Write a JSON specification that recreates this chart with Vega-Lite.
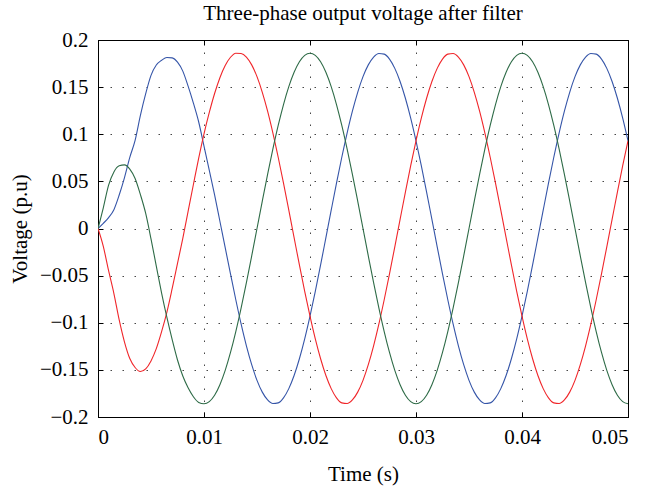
{
"$schema": "https://vega.github.io/schema/vega-lite/v6.json",
"width": 530, "height": 377,
"autosize": "none",
"padding": {"left": 98, "top": 40, "right": 18, "bottom": 72},
"background": "white",
"title": {"text": "Three-phase output voltage after filter", "font": "Liberation Serif", "fontSize": 21, "fontWeight": "normal", "color": "black", "anchor": "middle", "offset": 5},
"config": {
 "font": "Liberation Serif",
 "view": {"stroke": "black", "strokeWidth": 1},
 "axis": {"domainColor": "black", "tickColor": "black", "labelColor": "black", "titleColor": "black", "labelFont": "Liberation Serif", "titleFont": "Liberation Serif", "labelFontSize": 21, "titleFontSize": 21, "titleFontWeight": "normal", "tickSize": -5, "gridColor": "#333333", "gridDash": [1.5, 10.5], "gridWidth": 1, "gridOpacity": 0.9}
},
"data": {"values": [
{"t":0,"p":"Va","v":0},{"t":0.0005,"p":"Va","v":0.0055},{"t":0.001,"p":"Va","v":0.0115},{"t":0.0015,"p":"Va","v":0.020},{"t":0.002,"p":"Va","v":0.0355},{"t":0.0025,"p":"Va","v":0.054},{"t":0.003,"p":"Va","v":0.0755},{"t":0.0035,"p":"Va","v":0.0935},{"t":0.004,"p":"Va","v":0.120},{"t":0.0045,"p":"Va","v":0.143},
{"t":0.005,"p":"Va","v":0.1625},{"t":0.0055,"p":"Va","v":0.1735},{"t":0.006,"p":"Va","v":0.1785},{"t":0.0065,"p":"Va","v":0.1815},{"t":0.007,"p":"Va","v":0.181},{"t":0.0075,"p":"Va","v":0.1765},{"t":0.008,"p":"Va","v":0.167},{"t":0.0085,"p":"Va","v":0.151},{"t":0.009,"p":"Va","v":0.133},{"t":0.0095,"p":"Va","v":0.113},
{"t":0.01,"p":"Va","v":0.0875},{"t":0.0105,"p":"Va","v":0.0617},{"t":0.011,"p":"Va","v":0.0357},{"t":0.0115,"p":"Va","v":0.0077},{"t":0.012,"p":"Va","v":-0.0204},{"t":0.0125,"p":"Va","v":-0.0481},{"t":0.013,"p":"Va","v":-0.0756},{"t":0.0135,"p":"Va","v":-0.1013},{"t":0.014,"p":"Va","v":-0.1245},{"t":0.0145,"p":"Va","v":-0.1445},
{"t":0.015,"p":"Va","v":-0.1611},{"t":0.0155,"p":"Va","v":-0.1736},{"t":0.016,"p":"Va","v":-0.1819},{"t":0.0165,"p":"Va","v":-0.1857},{"t":0.017,"p":"Va","v":-0.1850},{"t":0.0175,"p":"Va","v":-0.1797},{"t":0.018,"p":"Va","v":-0.1699},{"t":0.0185,"p":"Va","v":-0.1560},{"t":0.019,"p":"Va","v":-0.1382},{"t":0.0195,"p":"Va","v":-0.1171},
{"t":0.02,"p":"Va","v":-0.0930},{"t":0.0205,"p":"Va","v":-0.0667},{"t":0.021,"p":"Va","v":-0.0387},{"t":0.0215,"p":"Va","v":-0.0097},{"t":0.022,"p":"Va","v":0.0194},{"t":0.0225,"p":"Va","v":0.0481},{"t":0.023,"p":"Va","v":0.0756},{"t":0.0235,"p":"Va","v":0.1013},{"t":0.024,"p":"Va","v":0.1245},{"t":0.0245,"p":"Va","v":0.1445},
{"t":0.025,"p":"Va","v":0.1611},{"t":0.0255,"p":"Va","v":0.1736},{"t":0.026,"p":"Va","v":0.1819},{"t":0.0265,"p":"Va","v":0.1857},{"t":0.027,"p":"Va","v":0.1850},{"t":0.0275,"p":"Va","v":0.1797},{"t":0.028,"p":"Va","v":0.1699},{"t":0.0285,"p":"Va","v":0.1560},{"t":0.029,"p":"Va","v":0.1382},{"t":0.0295,"p":"Va","v":0.1171},
{"t":0.03,"p":"Va","v":0.0930},{"t":0.0305,"p":"Va","v":0.0667},{"t":0.031,"p":"Va","v":0.0387},{"t":0.0315,"p":"Va","v":0.0097},{"t":0.032,"p":"Va","v":-0.0194},{"t":0.0325,"p":"Va","v":-0.0481},{"t":0.033,"p":"Va","v":-0.0756},{"t":0.0335,"p":"Va","v":-0.1013},{"t":0.034,"p":"Va","v":-0.1245},{"t":0.0345,"p":"Va","v":-0.1445},
{"t":0.035,"p":"Va","v":-0.1611},{"t":0.0355,"p":"Va","v":-0.1736},{"t":0.036,"p":"Va","v":-0.1819},{"t":0.0365,"p":"Va","v":-0.1857},{"t":0.037,"p":"Va","v":-0.1850},{"t":0.0375,"p":"Va","v":-0.1797},{"t":0.038,"p":"Va","v":-0.1699},{"t":0.0385,"p":"Va","v":-0.1560},{"t":0.039,"p":"Va","v":-0.1382},{"t":0.0395,"p":"Va","v":-0.1171},
{"t":0.04,"p":"Va","v":-0.0930},{"t":0.0405,"p":"Va","v":-0.0667},{"t":0.041,"p":"Va","v":-0.0387},{"t":0.0415,"p":"Va","v":-0.0097},{"t":0.042,"p":"Va","v":0.0194},{"t":0.0425,"p":"Va","v":0.0481},{"t":0.043,"p":"Va","v":0.0756},{"t":0.0435,"p":"Va","v":0.1013},{"t":0.044,"p":"Va","v":0.1245},{"t":0.0445,"p":"Va","v":0.1445},
{"t":0.045,"p":"Va","v":0.1611},{"t":0.0455,"p":"Va","v":0.1736},{"t":0.046,"p":"Va","v":0.1819},{"t":0.0465,"p":"Va","v":0.1857},{"t":0.047,"p":"Va","v":0.1850},{"t":0.0475,"p":"Va","v":0.1797},{"t":0.048,"p":"Va","v":0.1699},{"t":0.0485,"p":"Va","v":0.1560},{"t":0.049,"p":"Va","v":0.1382},{"t":0.0495,"p":"Va","v":0.1171},{"t":0.05,"p":"Va","v":0.0930},

{"t":0,"p":"Vb","v":0},{"t":0.0005,"p":"Vb","v":-0.019},{"t":0.001,"p":"Vb","v":-0.0448},{"t":0.0015,"p":"Vb","v":-0.069},{"t":0.002,"p":"Vb","v":-0.097},{"t":0.0025,"p":"Vb","v":-0.1205},{"t":0.003,"p":"Vb","v":-0.138},{"t":0.0035,"p":"Vb","v":-0.1475},{"t":0.004,"p":"Vb","v":-0.1518},{"t":0.0045,"p":"Vb","v":-0.149},
{"t":0.005,"p":"Vb","v":-0.1405},{"t":0.0055,"p":"Vb","v":-0.1275},{"t":0.006,"p":"Vb","v":-0.1095},{"t":0.0065,"p":"Vb","v":-0.0887},{"t":0.007,"p":"Vb","v":-0.0636},{"t":0.0075,"p":"Vb","v":-0.037},{"t":0.008,"p":"Vb","v":-0.0104},{"t":0.0085,"p":"Vb","v":0.0182},{"t":0.009,"p":"Vb","v":0.0467},{"t":0.0095,"p":"Vb","v":0.0747},
{"t":0.01,"p":"Vb","v":0.1005},{"t":0.0105,"p":"Vb","v":0.1231},{"t":0.011,"p":"Vb","v":0.1432},{"t":0.0115,"p":"Vb","v":0.160},{"t":0.012,"p":"Vb","v":0.1729},{"t":0.0125,"p":"Vb","v":0.1817},{"t":0.013,"p":"Vb","v":0.186},{"t":0.0135,"p":"Vb","v":0.1857},{"t":0.014,"p":"Vb","v":0.1819},{"t":0.0145,"p":"Vb","v":0.1736},
{"t":0.015,"p":"Vb","v":0.1611},{"t":0.0155,"p":"Vb","v":0.1445},{"t":0.016,"p":"Vb","v":0.1245},{"t":0.0165,"p":"Vb","v":0.1013},{"t":0.017,"p":"Vb","v":0.0756},{"t":0.0175,"p":"Vb","v":0.0481},{"t":0.018,"p":"Vb","v":0.0194},{"t":0.0185,"p":"Vb","v":-0.0097},{"t":0.019,"p":"Vb","v":-0.0387},{"t":0.0195,"p":"Vb","v":-0.0667},
{"t":0.02,"p":"Vb","v":-0.0930},{"t":0.0205,"p":"Vb","v":-0.1171},{"t":0.021,"p":"Vb","v":-0.1382},{"t":0.0215,"p":"Vb","v":-0.1560},{"t":0.022,"p":"Vb","v":-0.1699},{"t":0.0225,"p":"Vb","v":-0.1797},{"t":0.023,"p":"Vb","v":-0.1850},{"t":0.0235,"p":"Vb","v":-0.1857},{"t":0.024,"p":"Vb","v":-0.1819},{"t":0.0245,"p":"Vb","v":-0.1736},
{"t":0.025,"p":"Vb","v":-0.1611},{"t":0.0255,"p":"Vb","v":-0.1445},{"t":0.026,"p":"Vb","v":-0.1245},{"t":0.0265,"p":"Vb","v":-0.1013},{"t":0.027,"p":"Vb","v":-0.0756},{"t":0.0275,"p":"Vb","v":-0.0481},{"t":0.028,"p":"Vb","v":-0.0194},{"t":0.0285,"p":"Vb","v":0.0097},{"t":0.029,"p":"Vb","v":0.0387},{"t":0.0295,"p":"Vb","v":0.0667},
{"t":0.03,"p":"Vb","v":0.0930},{"t":0.0305,"p":"Vb","v":0.1171},{"t":0.031,"p":"Vb","v":0.1382},{"t":0.0315,"p":"Vb","v":0.1560},{"t":0.032,"p":"Vb","v":0.1699},{"t":0.0325,"p":"Vb","v":0.1797},{"t":0.033,"p":"Vb","v":0.1850},{"t":0.0335,"p":"Vb","v":0.1857},{"t":0.034,"p":"Vb","v":0.1819},{"t":0.0345,"p":"Vb","v":0.1736},
{"t":0.035,"p":"Vb","v":0.1611},{"t":0.0355,"p":"Vb","v":0.1445},{"t":0.036,"p":"Vb","v":0.1245},{"t":0.0365,"p":"Vb","v":0.1013},{"t":0.037,"p":"Vb","v":0.0756},{"t":0.0375,"p":"Vb","v":0.0481},{"t":0.038,"p":"Vb","v":0.0194},{"t":0.0385,"p":"Vb","v":-0.0097},{"t":0.039,"p":"Vb","v":-0.0387},{"t":0.0395,"p":"Vb","v":-0.0667},
{"t":0.04,"p":"Vb","v":-0.0930},{"t":0.0405,"p":"Vb","v":-0.1171},{"t":0.041,"p":"Vb","v":-0.1382},{"t":0.0415,"p":"Vb","v":-0.1560},{"t":0.042,"p":"Vb","v":-0.1699},{"t":0.0425,"p":"Vb","v":-0.1797},{"t":0.043,"p":"Vb","v":-0.1850},{"t":0.0435,"p":"Vb","v":-0.1857},{"t":0.044,"p":"Vb","v":-0.1819},{"t":0.0445,"p":"Vb","v":-0.1736},
{"t":0.045,"p":"Vb","v":-0.1611},{"t":0.0455,"p":"Vb","v":-0.1445},{"t":0.046,"p":"Vb","v":-0.1245},{"t":0.0465,"p":"Vb","v":-0.1013},{"t":0.047,"p":"Vb","v":-0.0756},{"t":0.0475,"p":"Vb","v":-0.0481},{"t":0.048,"p":"Vb","v":-0.0194},{"t":0.0485,"p":"Vb","v":0.0097},{"t":0.049,"p":"Vb","v":0.0387},{"t":0.0495,"p":"Vb","v":0.0667},{"t":0.05,"p":"Vb","v":0.0930},

{"t":0,"p":"Vc","v":0},{"t":0.0005,"p":"Vc","v":0.022},{"t":0.001,"p":"Vc","v":0.046},{"t":0.0015,"p":"Vc","v":0.060},{"t":0.002,"p":"Vc","v":0.0665},{"t":0.0025,"p":"Vc","v":0.0675},{"t":0.003,"p":"Vc","v":0.063},{"t":0.0035,"p":"Vc","v":0.053},{"t":0.004,"p":"Vc","v":0.036},{"t":0.0045,"p":"Vc","v":0.016},
{"t":0.005,"p":"Vc","v":-0.011},{"t":0.0055,"p":"Vc","v":-0.040},{"t":0.006,"p":"Vc","v":-0.0685},{"t":0.0065,"p":"Vc","v":-0.0944},{"t":0.007,"p":"Vc","v":-0.118},{"t":0.0075,"p":"Vc","v":-0.1395},{"t":0.008,"p":"Vc","v":-0.1565},{"t":0.0085,"p":"Vc","v":-0.169},{"t":0.009,"p":"Vc","v":-0.1785},{"t":0.0095,"p":"Vc","v":-0.1845},
{"t":0.01,"p":"Vc","v":-0.186},{"t":0.0105,"p":"Vc","v":-0.1837},{"t":0.011,"p":"Vc","v":-0.1769},{"t":0.0115,"p":"Vc","v":-0.1657},{"t":0.012,"p":"Vc","v":-0.1505},{"t":0.0125,"p":"Vc","v":-0.1315},{"t":0.013,"p":"Vc","v":-0.1093},{"t":0.0135,"p":"Vc","v":-0.0844},{"t":0.014,"p":"Vc","v":-0.0575},{"t":0.0145,"p":"Vc","v":-0.0291},
{"t":0.015,"p":"Vc","v":0},{"t":0.0155,"p":"Vc","v":0.0291},{"t":0.016,"p":"Vc","v":0.0575},{"t":0.0165,"p":"Vc","v":0.0844},{"t":0.017,"p":"Vc","v":0.1093},{"t":0.0175,"p":"Vc","v":0.1315},{"t":0.018,"p":"Vc","v":0.1505},{"t":0.0185,"p":"Vc","v":0.1657},{"t":0.019,"p":"Vc","v":0.1769},{"t":0.0195,"p":"Vc","v":0.1837},
{"t":0.02,"p":"Vc","v":0.186},{"t":0.0205,"p":"Vc","v":0.1837},{"t":0.021,"p":"Vc","v":0.1769},{"t":0.0215,"p":"Vc","v":0.1657},{"t":0.022,"p":"Vc","v":0.1505},{"t":0.0225,"p":"Vc","v":0.1315},{"t":0.023,"p":"Vc","v":0.1093},{"t":0.0235,"p":"Vc","v":0.0844},{"t":0.024,"p":"Vc","v":0.0575},{"t":0.0245,"p":"Vc","v":0.0291},
{"t":0.025,"p":"Vc","v":0},{"t":0.0255,"p":"Vc","v":-0.0291},{"t":0.026,"p":"Vc","v":-0.0575},{"t":0.0265,"p":"Vc","v":-0.0844},{"t":0.027,"p":"Vc","v":-0.1093},{"t":0.0275,"p":"Vc","v":-0.1315},{"t":0.028,"p":"Vc","v":-0.1505},{"t":0.0285,"p":"Vc","v":-0.1657},{"t":0.029,"p":"Vc","v":-0.1769},{"t":0.0295,"p":"Vc","v":-0.1837},
{"t":0.03,"p":"Vc","v":-0.186},{"t":0.0305,"p":"Vc","v":-0.1837},{"t":0.031,"p":"Vc","v":-0.1769},{"t":0.0315,"p":"Vc","v":-0.1657},{"t":0.032,"p":"Vc","v":-0.1505},{"t":0.0325,"p":"Vc","v":-0.1315},{"t":0.033,"p":"Vc","v":-0.1093},{"t":0.0335,"p":"Vc","v":-0.0844},{"t":0.034,"p":"Vc","v":-0.0575},{"t":0.0345,"p":"Vc","v":-0.0291},
{"t":0.035,"p":"Vc","v":0},{"t":0.0355,"p":"Vc","v":0.0291},{"t":0.036,"p":"Vc","v":0.0575},{"t":0.0365,"p":"Vc","v":0.0844},{"t":0.037,"p":"Vc","v":0.1093},{"t":0.0375,"p":"Vc","v":0.1315},{"t":0.038,"p":"Vc","v":0.1505},{"t":0.0385,"p":"Vc","v":0.1657},{"t":0.039,"p":"Vc","v":0.1769},{"t":0.0395,"p":"Vc","v":0.1837},
{"t":0.04,"p":"Vc","v":0.186},{"t":0.0405,"p":"Vc","v":0.1837},{"t":0.041,"p":"Vc","v":0.1769},{"t":0.0415,"p":"Vc","v":0.1657},{"t":0.042,"p":"Vc","v":0.1505},{"t":0.0425,"p":"Vc","v":0.1315},{"t":0.043,"p":"Vc","v":0.1093},{"t":0.0435,"p":"Vc","v":0.0844},{"t":0.044,"p":"Vc","v":0.0575},{"t":0.0445,"p":"Vc","v":0.0291},
{"t":0.045,"p":"Vc","v":0},{"t":0.0455,"p":"Vc","v":-0.0291},{"t":0.046,"p":"Vc","v":-0.0575},{"t":0.0465,"p":"Vc","v":-0.0844},{"t":0.047,"p":"Vc","v":-0.1093},{"t":0.0475,"p":"Vc","v":-0.1315},{"t":0.048,"p":"Vc","v":-0.1505},{"t":0.0485,"p":"Vc","v":-0.1657},{"t":0.049,"p":"Vc","v":-0.1769},{"t":0.0495,"p":"Vc","v":-0.1837},{"t":0.05,"p":"Vc","v":-0.186}
]},
"layer": [
 {"mark": {"type": "line", "strokeWidth": 1.1, "interpolate": "monotone", "clip": true},
  "encoding": {
   "x": {"field": "t", "type": "quantitative", "scale": {"domain": [0, 0.05], "nice": false, "zero": false},
         "axis": {"orient": "bottom", "title": "Time (s)", "values": [0, 0.01, 0.02, 0.03, 0.04, 0.05], "format": "~g", "grid": true, "labelFont": "Liberation Serif", "titleFont": "Liberation Serif", "labelPadding": 14, "titlePadding": 16}},
   "y": {"field": "v", "type": "quantitative", "scale": {"domain": [-0.2, 0.2], "nice": false},
         "axis": {"orient": "left", "title": "Voltage (p.u)", "values": [-0.2, -0.15, -0.1, -0.05, 0, 0.05, 0.1, 0.15, 0.2], "format": "~g", "grid": true, "labelFont": "Liberation Serif", "titleFont": "Liberation Serif", "labelPadding": 15, "titlePadding": 9}},
   "color": {"field": "p", "type": "nominal", "scale": {"domain": ["Va", "Vb", "Vc"], "range": ["#3555a8", "#f0262a", "#2e6b47"]}, "legend": null}
  }},
 {"mark": {"type": "line", "strokeOpacity": 0},
  "encoding": {
   "x": {"field": "t", "type": "quantitative", "scale": {"domain": [0, 0.05], "nice": false, "zero": false},
         "axis": {"orient": "top", "title": null, "values": [0, 0.01, 0.02, 0.03, 0.04, 0.05], "labels": false, "grid": false}},
   "y": {"field": "v", "type": "quantitative", "scale": {"domain": [-0.2, 0.2], "nice": false},
         "axis": {"orient": "right", "title": null, "values": [-0.2, -0.15, -0.1, -0.05, 0, 0.05, 0.1, 0.15, 0.2], "labels": false, "grid": false}},
   "detail": {"field": "p", "type": "nominal"}
  }}
],
"resolve": {"axis": {"x": "independent", "y": "independent"}}
}
